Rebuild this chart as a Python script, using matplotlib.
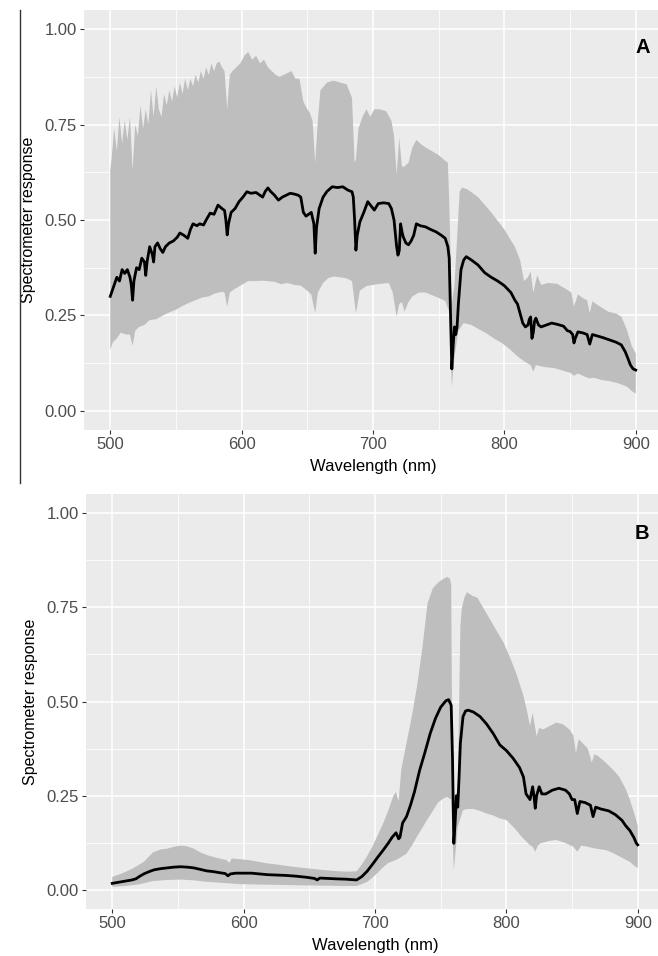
import numpy as np
import matplotlib
matplotlib.use('Agg')
import matplotlib.pyplot as plt
from matplotlib.ticker import MultipleLocator
from matplotlib.lines import Line2D

plt.rcParams['font.family'] = ['Liberation Sans', 'DejaVu Sans']

# ---------------- Painel A ----------------
wl_hi_a = [500, 501, 503, 505, 507, 509, 511, 513, 515, 517,
           519, 521, 523, 525, 527, 529, 531, 533, 535, 537,
           539, 541, 543, 545, 547, 549, 551, 553, 555, 557,
           559, 561, 563, 565, 567, 569, 571, 573, 575, 577,
           579, 581, 583, 585, 587, 589, 591, 593, 596, 599,
           602, 605, 608, 611, 614, 617, 620, 623, 626, 629,
           632, 635, 638, 641, 644, 647, 650, 652, 654, 656,
           658, 660, 665, 670, 675, 680, 684, 686, 687, 689,
           692, 695, 698, 701, 705, 710, 714, 716, 718, 720,
           722, 724, 727, 730, 733, 736, 740, 745, 750, 755,
           757, 758, 760, 762, 764, 766, 768, 772, 780, 790,
           800, 808, 812, 815, 818, 820, 822, 825, 828, 833,
           840, 848, 851, 853, 856, 860, 863, 865, 867, 872,
           879, 885, 889, 893, 897, 900]
hi_a = [0.63, 0.66, 0.74, 0.68, 0.77, 0.70, 0.76, 0.71, 0.77, 0.63,
        0.75, 0.72, 0.80, 0.74, 0.79, 0.75, 0.84, 0.77, 0.85, 0.79,
        0.77, 0.83, 0.80, 0.84, 0.81, 0.85, 0.82, 0.86, 0.83, 0.87,
        0.84, 0.87, 0.85, 0.88, 0.86, 0.89, 0.87, 0.90, 0.88, 0.91,
        0.89, 0.91, 0.915, 0.90, 0.89, 0.79, 0.88, 0.89, 0.90, 0.91,
        0.93, 0.94, 0.92, 0.93, 0.91, 0.92, 0.90, 0.89, 0.88, 0.875,
        0.88, 0.885, 0.89, 0.87, 0.87, 0.81, 0.79, 0.78, 0.76, 0.65,
        0.76, 0.84, 0.86, 0.865, 0.86, 0.855, 0.82, 0.65, 0.66, 0.74,
        0.77, 0.79, 0.77, 0.79, 0.79, 0.785, 0.76, 0.72, 0.62, 0.715,
        0.64, 0.64, 0.65, 0.69, 0.71, 0.70, 0.69, 0.68, 0.67, 0.655,
        0.65, 0.55, 0.28, 0.33, 0.45, 0.575, 0.585, 0.58, 0.56, 0.52,
        0.475, 0.43, 0.395, 0.34, 0.35, 0.365, 0.31, 0.355, 0.33, 0.335,
        0.333, 0.317, 0.31, 0.273, 0.305, 0.295, 0.29, 0.256, 0.287, 0.275,
        0.26, 0.255, 0.247, 0.215, 0.17, 0.15]

wl_lo_a = [500, 502, 505, 508, 512, 515, 517, 519, 522, 526,
           530, 535, 540, 545, 550, 555, 560, 565, 570, 575,
           580, 585, 587, 589, 591, 595, 600, 605, 610, 615,
           620, 625, 630, 635, 640, 645, 650, 653, 656, 658,
           662, 666, 670, 675, 680, 684, 687, 690, 695, 700,
           706, 712, 715, 718, 720, 722, 724, 727, 730, 735,
           740, 745, 750, 755, 758, 760, 762, 765, 769, 775,
           780, 786, 792, 798, 804, 810, 815, 820, 822, 824,
           830, 838, 845, 850, 853, 856, 861, 865, 868, 874,
           880, 886, 891, 894, 897, 900]
lo_a = [0.16, 0.18, 0.19, 0.205, 0.20, 0.20, 0.17, 0.21, 0.22, 0.225,
        0.238, 0.24, 0.25, 0.258, 0.265, 0.275, 0.283, 0.29, 0.297, 0.30,
        0.308, 0.312, 0.31, 0.273, 0.31, 0.32, 0.33, 0.34, 0.34, 0.341,
        0.34, 0.338, 0.332, 0.335, 0.33, 0.328, 0.315, 0.305, 0.256, 0.31,
        0.335, 0.348, 0.352, 0.35, 0.347, 0.34, 0.256, 0.315, 0.327, 0.33,
        0.333, 0.335, 0.31, 0.247, 0.28, 0.285, 0.26, 0.285, 0.30, 0.31,
        0.31, 0.303, 0.296, 0.288, 0.26, 0.064, 0.14, 0.21, 0.23, 0.225,
        0.215, 0.204, 0.19, 0.178, 0.162, 0.143, 0.13, 0.12, 0.103, 0.12,
        0.115, 0.112, 0.105, 0.10, 0.092, 0.098, 0.09, 0.085, 0.087, 0.081,
        0.078, 0.073, 0.067, 0.062, 0.052, 0.045]

wl_mean_a = [500, 501, 503, 505, 507, 509, 511, 513, 515, 516,
             517, 518, 520, 522, 524, 526, 527, 528, 530, 532,
             533, 534, 536, 538, 540, 542, 545, 548, 551, 553,
             556, 559, 561, 563, 566, 568, 571, 573, 576, 579,
             582, 585, 587, 588, 589, 590, 592, 595, 598, 601,
             604, 607, 611, 614, 616, 618, 620, 622, 625, 628,
             631, 634, 637, 640, 643, 645, 647, 649, 651, 653,
             655, 656, 657, 659, 662, 665, 669, 673, 677, 681,
             684, 685, 686, 687, 688, 690, 693, 696, 699, 701,
             704, 708, 712, 714, 716, 718, 719, 720, 721, 722,
             723, 725, 727, 729, 731, 733, 736, 740, 744, 748,
             752, 755, 757, 758, 759, 760, 761, 762, 763, 764,
             765, 767, 769, 771, 775, 780, 785, 790, 795, 800,
             805, 808, 810, 812, 814, 816, 818, 819, 820, 821,
             822, 823, 824, 826, 828, 832, 836, 840, 845, 848,
             850, 852, 853, 854, 856, 860, 863, 865, 867, 870,
             875, 880, 885, 889, 892, 894, 896, 898, 900]
mean_a = [0.30, 0.31, 0.33, 0.35, 0.34, 0.37, 0.36, 0.37, 0.35, 0.33,
          0.29, 0.34, 0.375, 0.37, 0.40, 0.39, 0.355, 0.39, 0.43, 0.41,
          0.39, 0.43, 0.44, 0.425, 0.415, 0.43, 0.44, 0.445, 0.455, 0.466,
          0.46, 0.452, 0.475, 0.49, 0.485, 0.49, 0.487, 0.50, 0.518, 0.515,
          0.539, 0.53, 0.525, 0.50, 0.461, 0.49, 0.52, 0.53, 0.548, 0.56,
          0.574, 0.57, 0.572, 0.565, 0.56, 0.575, 0.584, 0.575, 0.565, 0.552,
          0.56, 0.565, 0.57, 0.568, 0.565, 0.56, 0.52, 0.51, 0.515, 0.52,
          0.49, 0.413, 0.48, 0.53, 0.56, 0.575, 0.587, 0.585, 0.587, 0.578,
          0.574, 0.56, 0.50, 0.421, 0.46, 0.495, 0.52, 0.548, 0.535, 0.526,
          0.543, 0.545, 0.543, 0.53, 0.50, 0.43, 0.408, 0.42, 0.49, 0.47,
          0.456, 0.44, 0.435, 0.445, 0.46, 0.49, 0.485, 0.482, 0.475, 0.469,
          0.46, 0.452, 0.43, 0.40, 0.25, 0.11, 0.17, 0.22, 0.20, 0.22,
          0.28, 0.37, 0.395, 0.404, 0.395, 0.382, 0.362, 0.35, 0.34, 0.328,
          0.31, 0.29, 0.28, 0.255, 0.23, 0.22, 0.225, 0.24, 0.246, 0.19,
          0.205, 0.235, 0.243, 0.225, 0.22, 0.225, 0.23, 0.227, 0.222, 0.21,
          0.208, 0.20, 0.178, 0.19, 0.207, 0.204, 0.20, 0.175, 0.20, 0.197,
          0.192, 0.186, 0.18, 0.173, 0.155, 0.138, 0.12, 0.11, 0.107]

# ---------------- Painel B ----------------
wl_hi_b = [500, 508, 516, 524, 531, 537, 542, 547, 552, 557,
           562, 567, 572, 580, 587, 589, 591, 597, 603, 610,
           618, 625, 633, 640, 648, 656, 658, 665, 672, 680,
           686, 690, 694, 698, 702, 706, 710, 714, 716, 718,
           720, 724, 728, 732, 736, 740, 744, 748, 752, 755,
           757, 758, 759, 760, 763, 765, 766, 768, 770, 774,
           778, 783, 788, 793, 798, 803, 808, 813, 816, 818,
           820, 821, 823, 825, 828, 833, 838, 843, 848, 851,
           853, 855, 858, 862, 865, 867, 870, 875, 881, 886,
           891, 894, 898, 900]
hi_b = [0.035, 0.045, 0.058, 0.075, 0.10, 0.108, 0.11, 0.115, 0.118, 0.116,
        0.11, 0.10, 0.093, 0.085, 0.08, 0.072, 0.084, 0.082, 0.08, 0.076,
        0.071, 0.068, 0.064, 0.061, 0.058, 0.055, 0.054, 0.052, 0.05, 0.049,
        0.05, 0.068, 0.09, 0.115, 0.145, 0.175, 0.21, 0.25, 0.26, 0.235,
        0.32, 0.39, 0.46, 0.54, 0.64, 0.76, 0.80, 0.815, 0.825, 0.83,
        0.826, 0.81, 0.26, 0.25, 0.26, 0.70, 0.745, 0.775, 0.79, 0.78,
        0.775, 0.745, 0.715, 0.685, 0.655, 0.615, 0.57, 0.515, 0.47, 0.435,
        0.47, 0.45, 0.408, 0.43, 0.426, 0.435, 0.444, 0.44, 0.426, 0.41,
        0.364, 0.40, 0.39, 0.375, 0.338, 0.36, 0.355, 0.34, 0.32, 0.30,
        0.267, 0.24, 0.196, 0.17]

wl_lo_b = [500, 510, 520, 531, 542, 552, 562, 572, 585, 597,
           610, 625, 640, 660, 678, 686, 690, 694, 698, 702,
           706, 710, 716, 720, 724, 728, 732, 736, 740, 744,
           748, 752, 755, 758, 759, 760, 761, 763, 765, 767,
           770, 775, 780, 785, 790, 795, 800, 806, 812, 818,
           820, 822, 824, 826, 832, 838, 845, 851, 854, 857,
           862, 868, 876, 882, 889, 894, 897, 900]
lo_b = [0.009, 0.011, 0.015, 0.024, 0.027, 0.028, 0.026, 0.022, 0.019, 0.016,
        0.015, 0.014, 0.013, 0.012, 0.011, 0.011, 0.016, 0.022, 0.033, 0.046,
        0.06, 0.072, 0.08, 0.088, 0.097, 0.118, 0.142, 0.165, 0.188, 0.21,
        0.232, 0.243, 0.247, 0.24, 0.15, 0.053, 0.09, 0.168, 0.19, 0.212,
        0.215, 0.215, 0.21, 0.203, 0.198, 0.19, 0.186, 0.165, 0.14, 0.119,
        0.115, 0.102, 0.118, 0.124, 0.13, 0.133, 0.125, 0.115, 0.102, 0.118,
        0.115, 0.11, 0.106, 0.097, 0.084, 0.075, 0.066, 0.058]

wl_mean_b = [500, 505, 510, 515, 518, 521, 524, 528, 532, 537,
             542, 547, 552, 557, 562, 567, 572, 577, 582, 586,
             588, 590, 594, 600, 606, 612, 618, 625, 632, 640,
             648, 654, 656, 658, 664, 670, 678, 686, 690, 694,
             698, 702, 706, 710, 713, 716, 718, 719, 721, 724,
             727, 730, 734, 738, 742, 746, 750, 754, 756, 758,
             759, 760, 761, 762, 763, 764, 765, 767, 769, 771,
             775, 780, 785, 790, 795, 800, 805, 810, 813, 815,
             818, 820, 821, 822, 823, 825, 827, 830, 835, 840,
             845, 848, 850, 852, 854, 856, 860, 864, 866, 868,
             872, 878, 883, 888, 891, 894, 897, 899, 900]
mean_b = [0.018, 0.021, 0.024, 0.027, 0.03, 0.037, 0.043, 0.049, 0.054, 0.057,
          0.059, 0.061, 0.062, 0.061, 0.059, 0.055, 0.051, 0.049, 0.046, 0.044,
          0.038, 0.043, 0.045, 0.045, 0.045, 0.043, 0.041, 0.04, 0.039, 0.037,
          0.034, 0.031, 0.027, 0.032, 0.031, 0.03, 0.029, 0.027, 0.036, 0.05,
          0.068, 0.087, 0.105, 0.124, 0.14, 0.152, 0.136, 0.14, 0.178, 0.195,
          0.225, 0.26, 0.318, 0.365, 0.415, 0.455, 0.485, 0.502, 0.505, 0.49,
          0.35, 0.124, 0.18, 0.25, 0.22, 0.30, 0.39, 0.46, 0.475, 0.477,
          0.472, 0.46, 0.44, 0.415, 0.385, 0.37, 0.35, 0.325, 0.30, 0.255,
          0.24, 0.274, 0.25, 0.217, 0.25, 0.274, 0.255, 0.255, 0.265, 0.27,
          0.265, 0.255, 0.24, 0.24, 0.203, 0.235, 0.232, 0.225, 0.195, 0.22,
          0.215, 0.21, 0.20, 0.185, 0.17, 0.158, 0.14, 0.124, 0.12]

xticks = [500, 600, 700, 800, 900]
yticks = [0.00, 0.25, 0.50, 0.75, 1.00]


def draw_panel(ax, wl_hi, hi, wl_lo, lo, wl_mean, mean, letter, lx, ly):
    ax.set_facecolor('#EBEBEB')
    ax.set_axisbelow(True)
    for s in ax.spines.values():
        s.set_visible(False)

    # faixa cinza (min / max)
    xs = np.concatenate([wl_hi, wl_lo[::-1]])
    ys = np.concatenate([hi, lo[::-1]])
    ax.fill(xs, ys, color='#BEBEBE', lw=0, zorder=2)

    # media
    ax.plot(wl_mean, mean, color='black', lw=2.0, zorder=3)

    ax.set_xlim(480, 920)
    ax.set_ylim(-0.05, 1.05)
    ax.set_xticks(xticks)
    ax.set_yticks(yticks)
    ax.set_yticklabels(['%.2f' % v for v in yticks])
    ax.xaxis.set_minor_locator(MultipleLocator(50))
    ax.yaxis.set_minor_locator(MultipleLocator(0.125))
    ax.grid(which='major', color='white', lw=1.1)
    ax.grid(which='minor', color='white', lw=0.55)
    ax.tick_params(which='major', length=2.75, width=0.8, color='#333333',
                   labelcolor='#4D4D4D', labelsize=12, pad=2.5)
    ax.tick_params(which='minor', length=0)
    ax.set_xlabel('Wavelength (nm)', fontsize=12, labelpad=5)
    ax.set_ylabel('Spectrometer response', fontsize=11.5, labelpad=6)
    ax.text(lx, ly, letter, transform=ax.transAxes, ha='right',
            va='center', fontsize=14.5, fontweight='bold')


W, H = 658, 956
fig = plt.figure(figsize=(W / 100, H / 100), dpi=100)
axA = fig.add_axes([84 / W, (H - 430) / H, 578 / W, 420 / H])
axB = fig.add_axes([86 / W, (H - 909) / H, 578 / W, 415 / H])

draw_panel(axA, np.array(wl_hi_a), np.array(hi_a), np.array(wl_lo_a),
           np.array(lo_a), wl_mean_a, mean_a, 'A', 0.979, 0.911)
draw_panel(axB, np.array(wl_hi_b), np.array(hi_b), np.array(wl_lo_b),
           np.array(lo_b), wl_mean_b, mean_b, 'B', 0.974, 0.906)

# linha vertical solta na esquerda
fig.add_artist(Line2D([20 / W, 20 / W], [(H - 10) / H, (H - 483) / H],
                      color='#333333', lw=1.0))

fig.savefig('out.png', dpi=100, facecolor='white')
